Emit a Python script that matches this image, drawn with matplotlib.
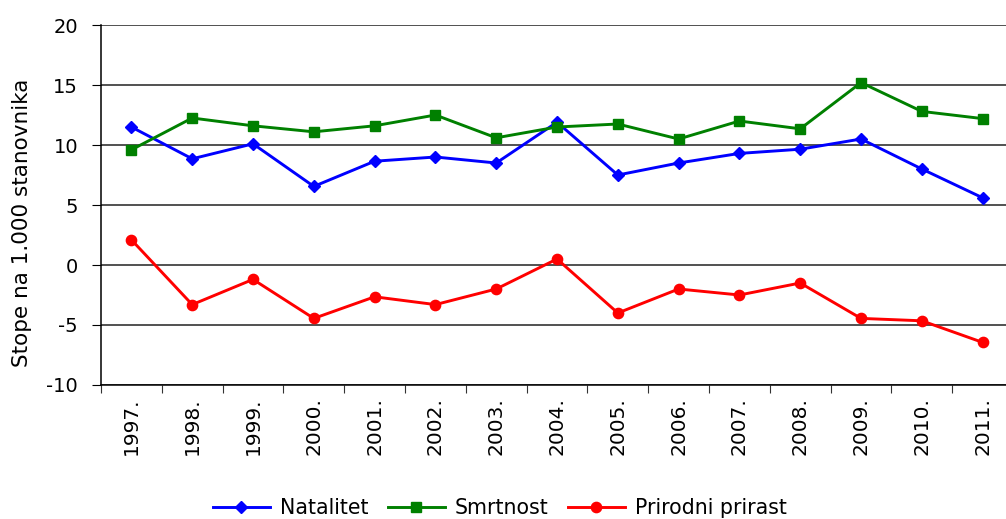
import numpy as np
import matplotlib
matplotlib.use("Agg")
import matplotlib.pyplot as plt

plt.rcParams['font.family'] = ['DejaVu Sans']
plt.rcParams['axes.unicode_minus'] = False

# data
years = ['1997.', '1998.', '1999.', '2000.', '2001.', '2002.', '2003.', '2004.',
         '2005.', '2006.', '2007.', '2008.', '2009.', '2010.', '2011.']
natalitet = [11.5, 8.85, 10.1, 6.55, 8.65, 9.0, 8.5, 11.9,
             7.5, 8.5, 9.3, 9.65, 10.5, 8.0, 5.6]
smrtnost = [9.6, 12.25, 11.6, 11.1, 11.6, 12.5, 10.6, 11.5,
            11.75, 10.5, 12.0, 11.35, 15.2, 12.8, 12.2]
prirast = [2.1, -3.3, -1.2, -4.45, -2.65, -3.3, -2.0, 0.5,
           -4.0, -2.0, -2.5, -1.5, -4.45, -4.65, -6.45]

fig = plt.figure(figsize=(10.06, 5.19), dpi=100)
ax = fig.add_axes([0.1004, 0.2582, 0.9066, 0.6936])

x = np.arange(len(years))
ax.plot(x, natalitet, color='#0000FF', lw=2.1, marker='D', ms=6.6, label='Natalitet')
ax.plot(x, smrtnost, color='#008000', lw=2.1, marker='s', ms=7.8, label='Smrtnost')
ax.plot(x, prirast, color='#FF0000', lw=2.1, marker='o', ms=7.4, label='Prirodni prirast')

ax.set_xlim(-0.5, len(years) - 0.5)
ax.set_ylim(-10, 20)
ax.set_yticks(range(-10, 21, 5))
ax.yaxis.grid(True, color='#222222', lw=1.1)
ax.set_axisbelow(True)

# category boundaries as tick marks, labels at the centers
ax.set_xticks(np.arange(-0.5, len(years), 1.0))
ax.set_xticklabels([])
ax.set_xticks(x, minor=True)
ax.set_xticklabels(years, minor=True, rotation=90, fontsize=14.5)
ax.tick_params(axis='x', which='minor', length=0, pad=9)
ax.tick_params(axis='x', which='major', length=6, color='#333333')
ax.tick_params(axis='y', length=6.5, labelsize=14, pad=10)

for s in ['top', 'right']:
    ax.spines[s].set_visible(False)
ax.spines['left'].set_color('black')
ax.spines['bottom'].set_color('black')
ax.spines['left'].set_linewidth(1.1)
ax.spines['bottom'].set_linewidth(1.1)

ax.set_ylabel('Stope na 1.000 stanovnika', fontsize=15.5)
ax.yaxis.set_label_coords(-0.076, 0.45)

fig.legend(loc='center', bbox_to_anchor=(0.497, 0.021), ncol=3, frameon=False,
           fontsize=14.8, handlelength=2.75, columnspacing=0.95, handletextpad=0.5,
           borderaxespad=0, borderpad=0)

fig.savefig('out.png', dpi=100)
